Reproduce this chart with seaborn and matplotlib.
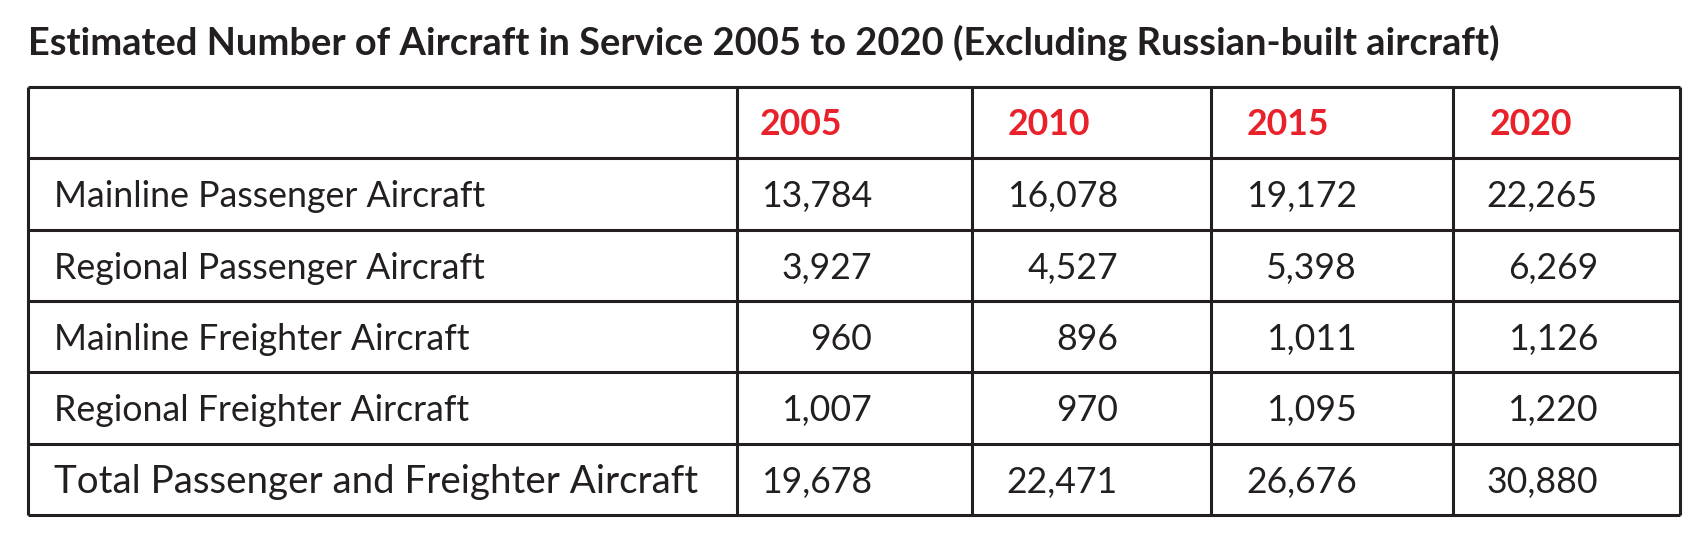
"""Table figure: estimated number of aircraft in service 2005-2020."""
import matplotlib
matplotlib.use("Agg")
import matplotlib.pyplot as plt
from matplotlib.colors import ListedColormap
import numpy as np
import pandas as pd
import seaborn as sns

# ---- data -------------------------------------------------------------
title = "Estimated Number of Aircraft in Service 2005 to 2020 (Excluding Russian-built aircraft)"
years = ["2005", "2010", "2015", "2020"]
categories = [
    "Mainline Passenger Aircraft",
    "Regional Passenger Aircraft",
    "Mainline Freighter Aircraft",
    "Regional Freighter Aircraft",
]
total_label = "Total Passenger and Freighter Aircraft"
mainline_pax = [13784, 16078, 19172, 22265]
regional_pax = [3927, 4527, 5398, 6269]
mainline_frt = [960, 896, 1011, 1126]
regional_frt = [1007, 970, 1095, 1220]
totals = [19678, 22471, 26676, 30880]

# ---- layout (pixels) --------------------------------------------------
W, H = 1706, 543
COL_X = [28, 737, 972, 1211, 1453, 1680]     # vertical rules
ROW_Y = np.linspace(87, 515, 7)              # horizontal rules
VAL_RIGHT = [135, 146, 146, 145]             # right edge of numbers from col left
HEAD_LEFT = [23, 36, 36, 37]
INK = "#231f20"
RED = "#e8212b"
LW = 2.2

sns.set_theme(style="white")
plt.rcParams["font.family"] = ["Lato", "DejaVu Sans"]

table = pd.DataFrame(
    [mainline_pax, regional_pax, mainline_frt, regional_frt, totals],
    index=categories + [total_label], columns=years)

fig = plt.figure(figsize=(W / 100, H / 100), dpi=100)
fig.patch.set_facecolor("white")

# white cell block for the numbers via seaborn
hx = fig.add_axes([COL_X[1] / W, 1 - ROW_Y[-1] / H,
                   (COL_X[-1] - COL_X[1]) / W, (ROW_Y[-1] - ROW_Y[1]) / H])
sns.heatmap(table, ax=hx, cmap=ListedColormap(["white"]),
            cbar=False, xticklabels=False, yticklabels=False, linewidths=0)
hx.set_xlabel("")
hx.set_ylabel("")

ax = fig.add_axes([0, 0, 1, 1])
ax.set_xlim(0, W)
ax.set_ylim(H, 0)
ax.axis("off")
ax.patch.set_alpha(0)

ax.hlines(ROW_Y, COL_X[0], COL_X[-1], color=INK, lw=LW)
ax.vlines(COL_X, ROW_Y[0], ROW_Y[-1], color=INK, lw=LW)

renderer = fig.canvas.get_renderer()


def fit(t, width):
    bb = t.get_window_extent(renderer)
    t.set_fontsize(t.get_fontsize() * width / bb.width)


t = ax.text(28, 55, title, fontsize=20, fontweight="bold", color=INK,
            ha="left", va="baseline")
fit(t, 1470)

probe = ax.text(0, 0, categories[0], fontsize=20, fontweight="normal")
fit(probe, 432)
body = probe.get_fontsize()
probe.remove()

for j, yr in enumerate(years):
    ax.text(COL_X[j + 1] + HEAD_LEFT[j], ROW_Y[0] + 48, yr, color=RED,
            fontsize=body, fontweight="bold", ha="left", va="baseline")

for i, (label, row) in enumerate(table.iterrows()):
    is_total = label == total_label
    y = ROW_Y[i + 1] + 49
    t = ax.text(54, y, label, color=INK, fontsize=body, ha="left", va="baseline")
    if is_total:
        fit(t, 643)
    for j, yr in enumerate(years):
        ax.text(COL_X[j + 1] + VAL_RIGHT[j], y, f"{row[yr]:,}", color=INK,
                fontsize=body, ha="right", va="baseline")

fig.savefig("out.png", dpi=100, facecolor="white")
